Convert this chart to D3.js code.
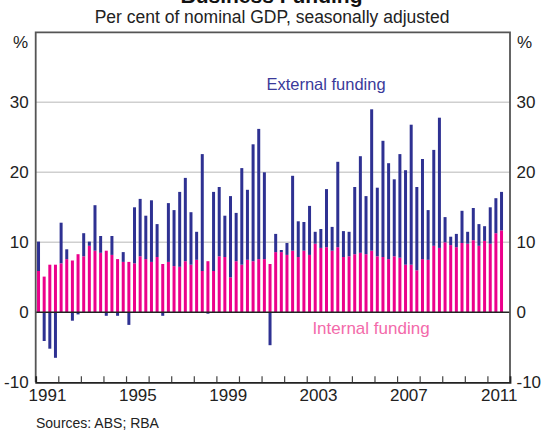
<!DOCTYPE html>
<html>
<head>
<meta charset="utf-8">
<script src="https://cdn.jsdelivr.net/npm/d3@7"></script>
<style>
  body { margin: 0; background: #fff; }
  svg text { font-family: Arial, "Liberation Sans", sans-serif; }
</style>
</head>
<body>
<div id="chart"></div>
<script>
// quarterly, Sep-1990 .. Mar-2011 (83 quarters), per cent of nominal GDP
const internalFunding = [
    5.9, 5.1, 6.8, 6.8, 7.0, 7.6, 7.4, 8.3, 8.0, 9.5,
    8.8, 8.5, 8.8, 8.2, 7.6, 7.2, 7.2, 7.0, 8.0, 7.6,
    7.2, 7.9, 6.9, 7.2, 6.6, 6.5, 7.3, 6.8, 7.5, 5.9,
    7.3, 5.9, 8.0, 7.9, 5.0, 7.3, 6.8, 7.5, 7.3, 7.6,
    7.6, 6.9, 8.6, 8.6, 8.2, 8.8, 7.9, 8.8, 8.2, 9.8,
    9.2, 9.3, 8.8, 9.3, 7.9, 8.0, 8.3, 8.5, 8.3, 8.8,
    8.0, 7.9, 7.6, 8.0, 7.8, 6.8, 6.8, 6.0, 7.6, 7.5,
    9.5, 9.2, 10.0, 9.6, 9.3, 9.9, 9.8, 10.3, 9.5, 10.2,
    9.8, 11.3, 11.7
];
const externalFunding = [
    4.2, -4.1, -5.2, -6.5, 5.8, 1.4, -1.2, -0.3, 3.3, 0.6,
    6.5, 2.4, -0.5, 2.7, -0.5, 1.4, -1.8, 8.0, 8.2, 6.2,
    8.8, 4.7, -0.5, 8.4, 8.0, 10.7, 11.9, 7.5, 4.0, 16.7,
    -0.2, 11.3, 9.9, 5.9, 11.6, 6.9, 13.8, 10.0, 16.7, 18.6,
    12.4, -4.7, 2.6, 0.3, 1.7, 10.7, 5.1, 4.1, 7.0, 1.7,
    2.7, 8.3, 3.4, 12.2, 3.7, 3.5, 9.6, 13.8, 8.3, 20.2,
    9.8, 16.6, 13.7, 11.0, 14.8, 13.5, 20.0, 11.9, 14.3, 7.1,
    13.7, 18.6, 3.6, 1.2, 1.9, 4.6, 1.7, 4.6, 3.1, 2.1,
    5.2, 5.0, 5.5
];

// axis slots: Sep-1990 .. Jun-2011 (last slot has no data yet)
const MONTHS = ["Mar", "Jun", "Sep", "Dec"];
const quarters = d3.range(2, 86).map(i => MONTHS[i % 4] + "-" + (1990 + Math.floor(i / 4)));

const yearLabels = [1991, 1995, 1999, 2003, 2007, 2011];
const yTicks = [-10, 0, 10, 20, 30];
const gridValues = [10, 20, 30];

const BLUE = "#2e3192";
const PINK = "#ec008c";

const W = 543, H = 430;
const plot = { left: 35.7, right: 510, top: 32.3, bottom: 382.3 };

const svg = d3.select("#chart").append("svg")
    .attr("width", W)
    .attr("height", H);

const xScale = d3.scaleBand()
    .domain(quarters)
    .range([plot.left, plot.right])
    .paddingInner(0.47)
    .paddingOuter(0.235);

// same range in years, year boundaries fall on July (financial years)
const xTime = d3.scaleLinear()
    .domain([1990.5, 2011.5])
    .range([plot.left, plot.right]);

const yScale = d3.scaleLinear()
    .domain([-10, 40])
    .range([plot.bottom, plot.top]);

// gridlines
svg.append("g")
    .selectAll("line")
    .data(gridValues)
    .join("line")
    .attr("x1", plot.left)
    .attr("x2", plot.right)
    .attr("y1", d => yScale(d))
    .attr("y2", d => yScale(d))
    .attr("stroke", "#cfcfcf")
    .attr("stroke-width", 1.5);

// stacked columns, external below zero when negative
const table = internalFunding.map((v, i) => ({
    quarter: quarters[i],
    internal: v,
    external: externalFunding[i]
}));

const stacked = d3.stack()
    .keys(["internal", "external"])
    .offset(d3.stackOffsetDiverging)(table);

const colors = { internal: PINK, external: BLUE };

svg.append("g")
    .selectAll("g")
    .data(stacked)
    .join("g")
    .attr("fill", s => colors[s.key])
    .selectAll("rect")
    .data(s => s)
    .join("rect")
    .attr("x", d => xScale(d.data.quarter))
    .attr("width", xScale.bandwidth())
    .attr("y", d => yScale(Math.max(d[0], d[1])))
    .attr("height", d => Math.abs(yScale(d[0]) - yScale(d[1])));

// zero line
svg.append("line")
    .attr("x1", plot.left)
    .attr("x2", plot.right)
    .attr("y1", yScale(0))
    .attr("y2", yScale(0))
    .attr("stroke", "#222")
    .attr("stroke-width", 1.6);

// frame
svg.append("path")
    .attr("d", `M${plot.left},${plot.bottom}V${plot.top}H${plot.right}V${plot.bottom}`)
    .attr("fill", "none")
    .attr("stroke", "#555")
    .attr("stroke-width", 1.8);

// bottom axis: year ticks pointing up into the plot
const tickAxis = svg.append("g")
    .attr("transform", `translate(0,${plot.bottom})`)
    .call(d3.axisBottom(xTime)
        .tickValues(d3.range(1991.5, 2011.5, 1))
        .tickSize(-6)
        .tickFormat(""));
tickAxis.select(".domain")
    .attr("stroke", "#222")
    .attr("stroke-width", 1.8);
tickAxis.selectAll(".tick line")
    .attr("stroke", "#444")
    .attr("stroke-width", 1.2);

const labelAxis = svg.append("g")
    .attr("transform", `translate(0,${plot.bottom + 4})`)
    .call(d3.axisBottom(xTime)
        .tickValues(yearLabels)
        .tickSize(0)
        .tickFormat(d => String(d)));
labelAxis.select(".domain").remove();
labelAxis.selectAll("text")
    .attr("font-size", 17)
    .attr("fill", "#222");

// y labels both sides (plain hyphen for negatives, like the original)
const leftAxis = svg.append("g")
    .attr("transform", `translate(${plot.left - 7},0)`)
    .call(d3.axisLeft(yScale).tickValues(yTicks).tickSize(0).tickFormat(d => String(d)));
const rightAxis = svg.append("g")
    .attr("transform", `translate(${plot.right + 6.5},0)`)
    .call(d3.axisRight(yScale).tickValues(yTicks).tickSize(0).tickFormat(d => String(d)));
[leftAxis, rightAxis].forEach(a => {
    a.select(".domain").remove();
    a.selectAll("text")
        .attr("x", 0)
        .attr("font-size", 17)
        .attr("fill", "#222");
});

svg.append("text")
    .attr("x", 20.5).attr("y", 42)
    .attr("text-anchor", "middle").attr("dominant-baseline", "central")
    .attr("font-size", 17).attr("fill", "#222")
    .text("%");
svg.append("text")
    .attr("x", 524.5).attr("y", 42.5)
    .attr("text-anchor", "middle").attr("dominant-baseline", "central")
    .attr("font-size", 17).attr("fill", "#222")
    .text("%");

// titles (main title sits mostly above the visible area, as in the original)
svg.append("text")
    .attr("x", W / 2).attr("y", 2.5)
    .attr("text-anchor", "middle")
    .attr("font-size", 21).attr("font-weight", "bold").attr("fill", "#111")
    .text("Business Funding");
svg.append("text")
    .attr("x", 272).attr("y", 16.5)
    .attr("text-anchor", "middle").attr("dominant-baseline", "central")
    .attr("font-size", 17.5).attr("fill", "#222")
    .text("Per cent of nominal GDP, seasonally adjusted");

// series labels
svg.append("text")
    .attr("x", 326).attr("y", 84)
    .attr("text-anchor", "middle").attr("dominant-baseline", "central")
    .attr("font-size", 16.5).attr("fill", "#3a3a9a")
    .text("External funding");
svg.append("text")
    .attr("x", 371).attr("y", 328.5)
    .attr("text-anchor", "middle").attr("dominant-baseline", "central")
    .attr("font-size", 17).attr("fill", "#f36aaa")
    .text("Internal funding");

// source
svg.append("text")
    .attr("x", 36).attr("y", 423)
    .attr("dominant-baseline", "central")
    .attr("font-size", 14).attr("fill", "#222")
    .text("Sources: ABS; RBA");
</script>
</body>
</html>
